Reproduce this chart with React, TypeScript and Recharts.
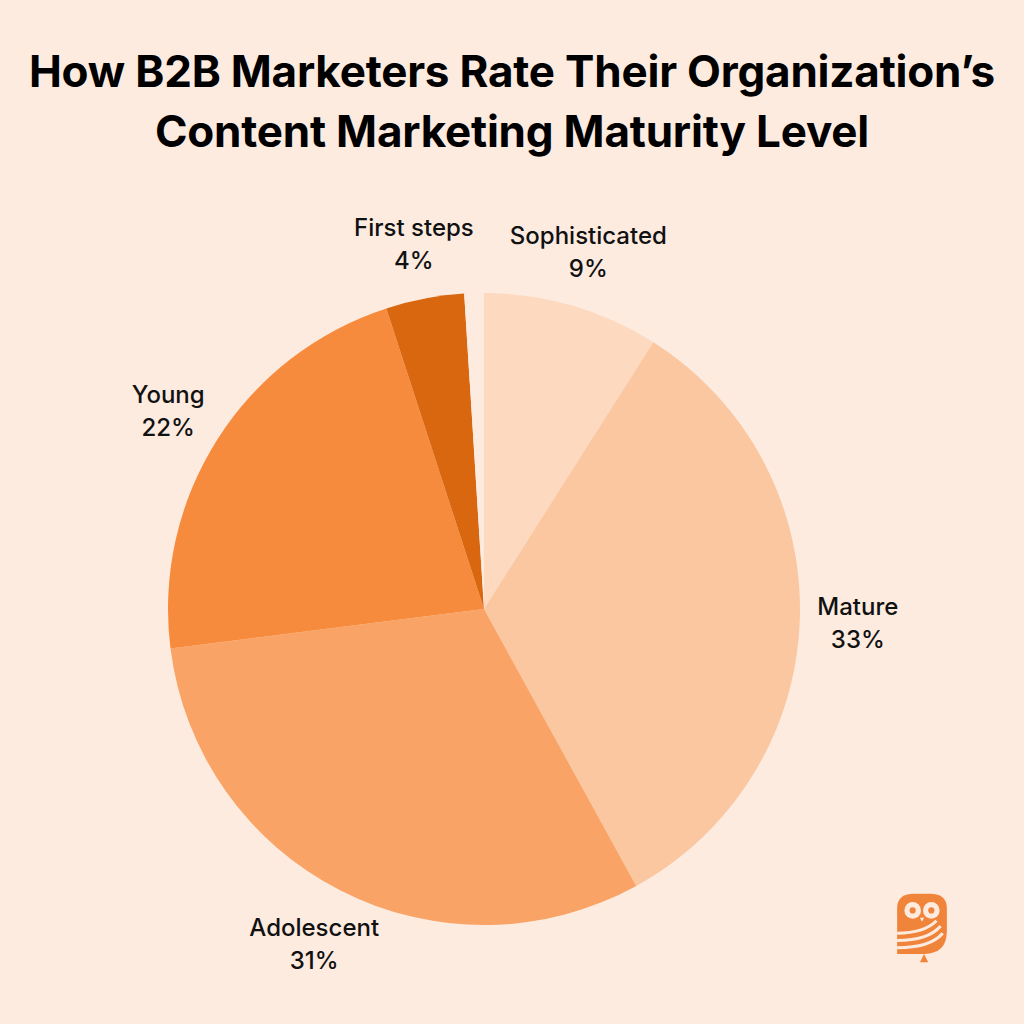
import React from 'react'
import { PieChart, Pie, Cell } from 'recharts'

const levels = ['Sophisticated', 'Mature', 'Adolescent', 'Young', 'First steps', '']
const shares = [9, 33, 31, 22, 4, 1]
const colors = ['#FDD9BF', '#FAC7A1', '#F9A466', '#F78B3D', '#D8670F', '#FDEBE0']

const data = levels.map((name, i) => ({ name, value: shares[i] }))

const RADIAN = Math.PI / 180

const renderLabel = (props: any) => {
  const { cx, cy, midAngle, outerRadius, name, value } = props
  if (!name) return null
  const r = outerRadius + 58
  const x = cx + r * Math.cos(-midAngle * RADIAN)
  const y = cy + r * Math.sin(-midAngle * RADIAN)
  return (
    <text
      x={x}
      y={y}
      textAnchor="middle"
      fill="#111"
      fontSize={24}
      fontWeight={500}
      fontFamily="Inter, sans-serif"
    >
      <tspan x={x} dy={-6}>{name}</tspan>
      <tspan x={x} dy={33}>{value}%</tspan>
    </text>
  )
}

function Owl() {
  return (
    <svg width={58} height={74} viewBox="0 0 56 70" style={{ position: 'absolute', left: 893, top: 891 }}>
      <path d="M4 16 Q4 2 20 2 L36 2 Q52 2 52 16 L52 38 Q52 60 30 60 L4 60 Z" fill="#F0843A" />
      <circle cx={19} cy={18} r={8} fill="#FDEBE0" />
      <circle cx={37} cy={18} r={8} fill="#FDEBE0" />
      <circle cx={19} cy={18} r={3} fill="#F0843A" />
      <circle cx={37} cy={18} r={3} fill="#F0843A" />
      <path d="M26 25 L30 25 L28 29 Z" fill="#FDEBE0" />
      <path d="M4 40 Q30 40 42 28" stroke="#FDEBE0" strokeWidth={3} fill="none" />
      <path d="M4 47 Q34 47 46 33" stroke="#FDEBE0" strokeWidth={3} fill="none" />
      <path d="M4 54 Q36 54 48 40" stroke="#FDEBE0" strokeWidth={3} fill="none" />
      <path d="M26 68 L30 60 L34 68 Z" fill="#F0843A" />
    </svg>
  )
}

export default function App() {
  return (
    <div
      style={{
        position: 'absolute',
        left: 0,
        top: 0,
        width: 1024,
        height: 1024,
        background: '#FDEBE0',
        overflow: 'hidden',
      }}
    >
      <div
        style={{
          position: 'absolute',
          top: 41,
          left: 0,
          width: 1024,
          textAlign: 'center',
          fontFamily: 'Inter, sans-serif',
          fontWeight: 700,
          fontSize: 44,
          lineHeight: '60px',
          color: '#000',
          letterSpacing: -0.2,
        }}
      >
        How B2B Marketers Rate Their Organization’s
        <br />
        Content Marketing Maturity Level
      </div>
      <PieChart width={1024} height={1024} style={{ position: 'absolute', left: 0, top: 0 }}>
        <Pie
          data={data}
          dataKey="value"
          nameKey="name"
          cx={479}
          cy={604}
          outerRadius={316}
          startAngle={90}
          endAngle={-270}
          stroke="none"
          label={renderLabel}
          labelLine={false}
          isAnimationActive={false}
        >
          {data.map((d, i) => (
            <Cell key={d.name + i} fill={colors[i]} />
          ))}
        </Pie>
      </PieChart>
      <Owl />
    </div>
  )
}
